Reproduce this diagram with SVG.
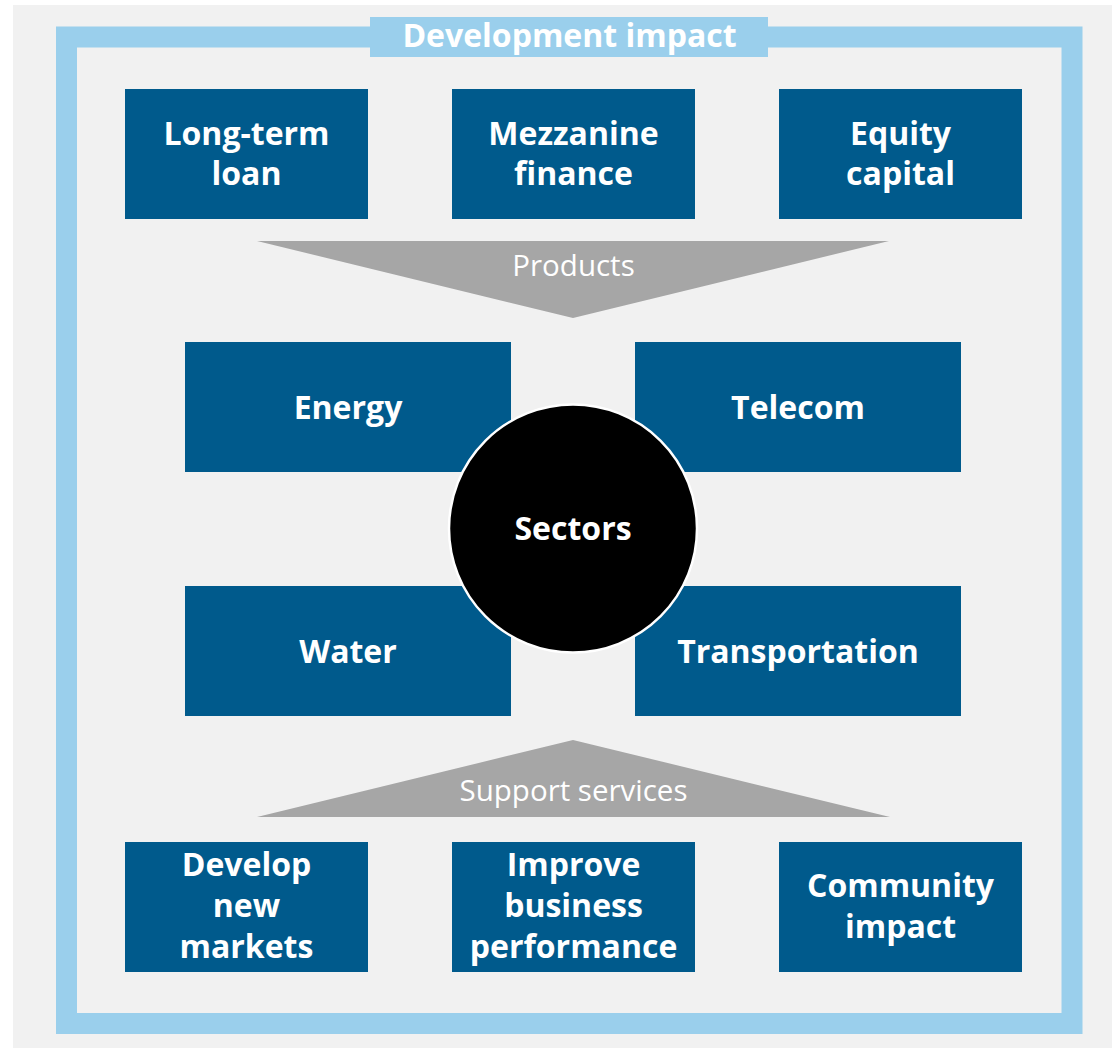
<svg xmlns="http://www.w3.org/2000/svg" width="1112" height="1048" viewBox="0 0 1112 1048">
<style>
.box{fill:#005a8c}
.bt{font-family:"Open Sans","DejaVu Sans",sans-serif;font-weight:bold;font-size:32px;fill:#ffffff;text-anchor:middle}
.tri{fill:#a6a6a6}
.tt{font-family:"Open Sans","DejaVu Sans",sans-serif;font-size:29.5px;fill:#ffffff;text-anchor:middle}
</style>
<rect x="0" y="0" width="1112" height="1048" fill="#ffffff"/>
<rect x="13" y="5" width="1099" height="1043" fill="#f1f1f1"/>
<g id="frame">
<rect x="66.5" y="37" width="1005.5" height="986.5" fill="none" stroke="#9acfec" stroke-width="21"/>
<rect x="370" y="17" width="398" height="40" fill="#9acfec"/>
<text class="bt" x="569.5" y="47">Development impact</text>
</g>
<g id="connectors">
<g id="products">
<polygon class="tri" points="257,241 889,241 573,318"/>
<text class="tt" x="573.5" y="276">Products</text>
</g>
<g id="support">
<polygon class="tri" points="573,740 890,817 257,817"/>
<text class="tt" x="573.5" y="801">Support services</text>
</g>
</g>
<g id="n-longterm"><rect class="box" x="125" y="89" width="243" height="130"/><text class="bt" x="246.5" y="145">Long-term</text><text class="bt" x="246.5" y="185">loan</text></g>
<g id="n-mezzanine"><rect class="box" x="452" y="89" width="243" height="130"/><text class="bt" x="573.5" y="145">Mezzanine</text><text class="bt" x="573.5" y="185">finance</text></g>
<g id="n-equity"><rect class="box" x="779" y="89" width="243" height="130"/><text class="bt" x="900.5" y="145">Equity</text><text class="bt" x="900.5" y="185">capital</text></g>
<g id="n-energy"><rect class="box" x="185" y="342" width="326" height="130"/><text class="bt" x="348" y="419">Energy</text></g>
<g id="n-telecom"><rect class="box" x="635" y="342" width="326" height="130"/><text class="bt" x="798" y="419">Telecom</text></g>
<g id="n-water"><rect class="box" x="185" y="586" width="326" height="130"/><text class="bt" x="348" y="663">Water</text></g>
<g id="n-transport"><rect class="box" x="635" y="586" width="326" height="130"/><text class="bt" x="798" y="663">Transportation</text></g>
<g id="n-sectors"><circle cx="573" cy="528.5" r="124" fill="#000000" stroke="#ffffff" stroke-width="2.5"/><text class="bt" x="573" y="540">Sectors</text></g>
<g id="n-develop"><rect class="box" x="125" y="842" width="243" height="130"/><text class="bt" x="246.5" y="876">Develop</text><text class="bt" x="246.5" y="917">new</text><text class="bt" x="246.5" y="958">markets</text></g>
<g id="n-improve"><rect class="box" x="452" y="842" width="243" height="130"/><text class="bt" x="573.5" y="876">Improve</text><text class="bt" x="573.5" y="917">business</text><text class="bt" x="573.5" y="958">performance</text></g>
<g id="n-community"><rect class="box" x="779" y="842" width="243" height="130"/><text class="bt" x="900.5" y="897">Community</text><text class="bt" x="900.5" y="938">impact</text></g>
</svg>
